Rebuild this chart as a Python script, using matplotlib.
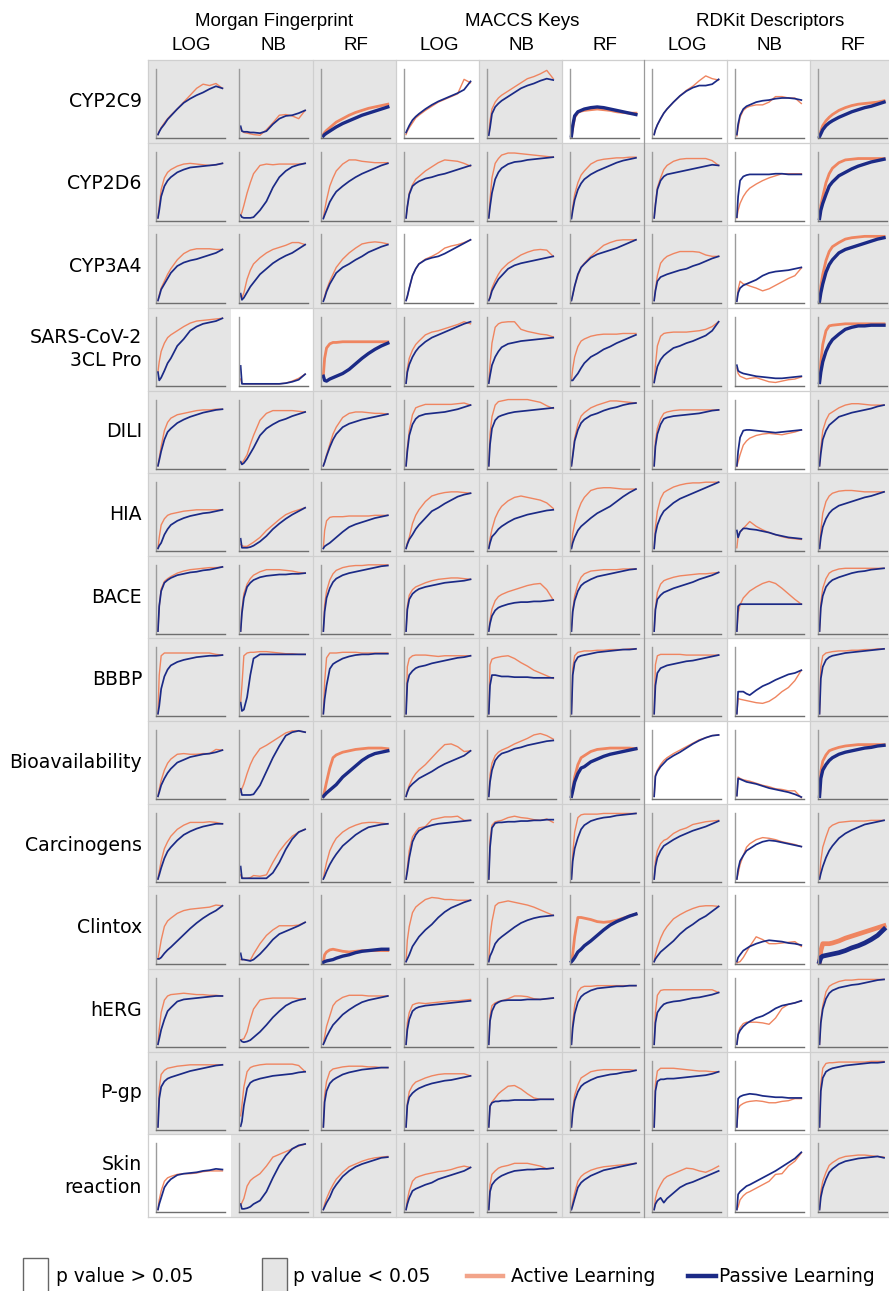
import matplotlib
matplotlib.use('Agg')
import matplotlib.pyplot as plt
from matplotlib.patches import Rectangle
from matplotlib.lines import Line2D

features = ['Morgan Fingerprint', 'MACCS Keys', 'RDKit Descriptors']
models = ['LOG', 'NB', 'RF']
datasets = ['CYP2C9', 'CYP2D6', 'CYP3A4', 'SARS-CoV-2\n3CL Pro', 'DILI', 'HIA', 'BACE',
            'BBBP', 'Bioavailability', 'Carcinogens', 'Clintox', 'hERG', 'P-gp', 'Skin\nreaction']

# fraction of the learning run at which the curves are read
steps = [0, .02, .05, .1, .15, .2, .3, .4, .5, .6, .7, .8, .9, 1]

# 1 = p value < 0.05 (grey cell), 0 = p value > 0.05 (white cell)
significant = [
    [1, 1, 1, 0, 1, 0, 0, 0, 1],
    [1, 1, 1, 1, 1, 1, 1, 0, 1],
    [1, 1, 1, 0, 1, 1, 1, 0, 1],
    [1, 0, 1, 1, 1, 1, 1, 0, 1],
    [1, 1, 1, 1, 1, 1, 1, 0, 1],
    [1, 1, 1, 1, 1, 1, 1, 1, 1],
    [1, 1, 1, 1, 1, 1, 1, 1, 1],
    [1, 1, 1, 1, 1, 1, 1, 0, 1],
    [1, 1, 1, 1, 1, 1, 0, 0, 1],
    [1, 1, 1, 1, 1, 1, 1, 0, 1],
    [1, 1, 1, 1, 1, 1, 1, 0, 1],
    [1, 1, 1, 1, 1, 1, 1, 0, 1],
    [1, 1, 1, 1, 1, 1, 1, 0, 1],
    [0, 1, 1, 1, 1, 1, 1, 0, 1],
]

# relative performance (% of panel height); columns: Morgan LOG/NB/RF, MACCS LOG/NB/RF, RDKit LOG/NB/RF
al_cyp2c9 = [
    [5, 10, 15, 22, 28, 33, 42, 52, 62, 72, 78, 76, 79, 72],
    [14, 10, 8, 7, 6, 5, 4, 12, 22, 33, 34, 32, 28, 40],
    [5, 8, 11, 15, 19, 23, 28, 33, 37, 40, 43, 45, 47, 49],
    [5, 10, 15, 22, 29, 33, 40, 46, 52, 56, 60, 64, 85, 80],
    [5, 25, 42, 52, 58, 62, 68, 74, 80, 86, 89, 93, 98, 86],
    [3, 15, 30, 37, 39, 40, 41, 42, 41, 40, 38, 37, 36, 36],
    [5, 12, 19, 28, 36, 42, 52, 61, 69, 75, 83, 90, 86, 84],
    [3, 15, 30, 40, 44, 46, 48, 48, 52, 60, 60, 58, 58, 50],
    [3, 10, 18, 25, 30, 34, 40, 44, 47, 49, 50, 51, 52, 54],
]
pl_cyp2c9 = [
    [5, 9, 14, 20, 27, 32, 42, 51, 57, 62, 66, 71, 75, 72],
    [17, 10, 9, 9, 8, 8, 7, 10, 20, 28, 32, 33, 36, 40],
    [3, 5, 7, 10, 13, 16, 21, 25, 29, 33, 36, 39, 42, 45],
    [8, 12, 18, 26, 31, 35, 42, 48, 53, 57, 61, 65, 70, 82],
    [4, 15, 35, 45, 50, 54, 60, 66, 72, 76, 79, 83, 86, 84],
    [3, 18, 32, 38, 40, 42, 44, 45, 44, 42, 40, 38, 36, 34],
    [5, 12, 19, 28, 36, 42, 52, 61, 68, 73, 76, 76, 78, 85],
    [5, 20, 33, 42, 46, 48, 52, 54, 55, 57, 58, 58, 57, 55],
    [2, 6, 12, 18, 22, 25, 30, 34, 38, 41, 44, 46, 49, 52],
]
al_cyp2d6 = [
    [4, 20, 45, 62, 70, 74, 79, 82, 83, 82, 81, 80, 81, 83],
    [8, 12, 22, 40, 55, 68, 80, 82, 81, 82, 82, 82, 82, 83],
    [4, 15, 30, 50, 62, 72, 82, 88, 88, 86, 85, 84, 84, 84],
    [4, 20, 40, 52, 60, 64, 72, 78, 84, 88, 87, 86, 83, 79],
    [4, 30, 62, 83, 90, 95, 98, 98, 97, 96, 95, 94, 93, 92],
    [4, 20, 38, 55, 66, 72, 82, 87, 89, 90, 91, 91, 92, 92],
    [4, 25, 48, 62, 74, 80, 86, 89, 90, 90, 90, 90, 87, 80],
    [4, 15, 25, 35, 42, 47, 53, 58, 62, 65, 68, 68, 68, 68],
    [4, 22, 35, 55, 68, 76, 84, 88, 89, 90, 90, 90, 90, 90],
]
pl_cyp2d6 = [
    [4, 15, 35, 50, 58, 63, 70, 74, 77, 78, 79, 80, 81, 83],
    [8, 5, 4, 4, 4, 5, 15, 28, 48, 63, 72, 78, 81, 83],
    [3, 8, 15, 27, 35, 42, 50, 57, 63, 68, 72, 76, 80, 83],
    [4, 20, 38, 50, 54, 57, 61, 63, 66, 68, 71, 74, 77, 80],
    [4, 20, 40, 60, 70, 76, 82, 85, 86, 88, 89, 90, 91, 92],
    [3, 15, 30, 45, 54, 60, 67, 72, 76, 80, 84, 87, 89, 91],
    [4, 22, 45, 58, 64, 67, 69, 71, 73, 75, 77, 79, 81, 80],
    [5, 35, 58, 64, 66, 67, 67, 67, 67, 68, 68, 67, 67, 67],
    [3, 15, 25, 38, 50, 56, 65, 70, 75, 79, 82, 85, 87, 89],
]
al_cyp3a4 = [
    [4, 12, 22, 32, 42, 50, 63, 72, 77, 79, 79, 79, 78, 78],
    [10, 8, 15, 35, 48, 57, 66, 73, 78, 81, 84, 88, 88, 85],
    [4, 10, 20, 32, 42, 52, 64, 73, 80, 86, 88, 89, 88, 86],
    [4, 10, 22, 40, 50, 57, 64, 68, 73, 80, 83, 85, 88, 92],
    [4, 10, 22, 33, 42, 49, 58, 64, 70, 74, 77, 78, 77, 68],
    [4, 12, 25, 40, 52, 58, 68, 76, 84, 88, 91, 92, 92, 92],
    [4, 20, 40, 58, 64, 68, 72, 75, 75, 75, 74, 70, 68, 68],
    [3, 20, 32, 28, 27, 25, 22, 18, 21, 26, 31, 36, 40, 51],
    [4, 25, 42, 62, 75, 82, 88, 93, 95, 96, 97, 97, 97, 97],
]
pl_cyp3a4 = [
    [4, 10, 20, 28, 36, 44, 54, 59, 62, 64, 67, 70, 73, 78],
    [14, 5, 8, 16, 24, 30, 42, 50, 58, 64, 69, 73, 79, 85],
    [3, 8, 17, 28, 36, 44, 52, 57, 63, 68, 74, 78, 82, 85],
    [4, 10, 22, 40, 50, 57, 63, 66, 68, 72, 77, 82, 87, 92],
    [4, 8, 18, 27, 35, 40, 50, 55, 58, 60, 62, 64, 66, 68],
    [4, 12, 25, 42, 52, 57, 66, 71, 74, 77, 80, 84, 88, 92],
    [4, 18, 32, 38, 40, 42, 45, 48, 50, 54, 57, 61, 65, 68],
    [3, 15, 22, 26, 28, 30, 34, 40, 44, 46, 47, 48, 50, 52],
    [3, 15, 28, 45, 56, 63, 73, 78, 81, 84, 87, 90, 93, 95],
]
al_sars = [
    [20, 35, 50, 62, 70, 74, 80, 86, 91, 94, 95, 96, 97, 98],
    [10, 4, 3, 3, 3, 3, 3, 3, 3, 3, 4, 7, 11, 17],
    [15, 40, 55, 61, 63, 63, 64, 64, 64, 64, 64, 64, 64, 64],
    [4, 25, 40, 52, 60, 65, 74, 78, 80, 83, 86, 89, 93, 90],
    [4, 30, 62, 85, 90, 92, 93, 93, 82, 79, 77, 75, 74, 71],
    [8, 25, 42, 57, 65, 68, 72, 74, 75, 75, 75, 76, 76, 76],
    [5, 30, 58, 72, 76, 77, 78, 78, 78, 79, 80, 82, 86, 93],
    [26, 18, 14, 12, 10, 11, 12, 9, 6, 5, 7, 9, 10, 13],
    [8, 35, 60, 80, 87, 88, 89, 90, 90, 90, 90, 90, 90, 90],
]
pl_sars = [
    [20, 8, 12, 22, 33, 40, 58, 68, 80, 86, 90, 92, 94, 98],
    [29, 3, 3, 3, 3, 3, 3, 3, 3, 3, 4, 6, 9, 17],
    [14, 8, 7, 10, 12, 14, 18, 24, 32, 40, 47, 53, 58, 62],
    [4, 20, 31, 42, 50, 56, 64, 70, 74, 78, 82, 86, 90, 93],
    [4, 15, 30, 42, 50, 56, 61, 63, 65, 66, 67, 68, 69, 70],
    [8, 8, 12, 18, 26, 33, 42, 47, 53, 57, 62, 66, 70, 74],
    [5, 15, 28, 38, 44, 48, 55, 58, 62, 65, 69, 73, 80, 93],
    [30, 22, 20, 18, 17, 16, 14, 13, 12, 11, 11, 12, 13, 14],
    [5, 20, 35, 50, 60, 67, 75, 82, 85, 87, 87, 88, 88, 88],
]
al_dili = [
    [4, 15, 32, 55, 67, 73, 78, 80, 82, 84, 85, 85, 86, 86],
    [8, 8, 12, 20, 35, 48, 70, 80, 84, 84, 84, 84, 83, 82],
    [4, 10, 20, 35, 50, 60, 74, 80, 82, 82, 81, 80, 80, 79],
    [4, 30, 55, 78, 88, 90, 93, 93, 93, 93, 93, 94, 95, 92],
    [4, 50, 75, 92, 97, 98, 100, 100, 100, 100, 98, 96, 91, 87],
    [4, 20, 44, 64, 76, 81, 88, 92, 95, 98, 98, 97, 96, 95],
    [4, 40, 58, 72, 80, 82, 84, 85, 85, 85, 85, 85, 85, 85],
    [3, 10, 20, 34, 40, 44, 48, 50, 51, 50, 49, 51, 53, 56],
    [4, 30, 55, 70, 79, 82, 88, 92, 94, 94, 93, 92, 92, 92],
]
pl_dili = [
    [4, 12, 25, 42, 53, 58, 66, 71, 75, 78, 81, 83, 85, 86],
    [10, 6, 8, 14, 22, 30, 48, 58, 64, 69, 72, 76, 79, 82],
    [4, 9, 18, 31, 42, 50, 60, 65, 68, 71, 73, 75, 77, 79],
    [4, 25, 48, 64, 72, 76, 79, 80, 81, 82, 84, 86, 89, 92],
    [4, 35, 58, 70, 75, 77, 80, 82, 83, 84, 85, 86, 87, 88],
    [4, 18, 40, 56, 66, 71, 77, 80, 84, 87, 89, 92, 94, 95],
    [4, 32, 50, 64, 72, 74, 76, 77, 78, 79, 80, 82, 84, 85],
    [4, 25, 45, 55, 56, 56, 55, 54, 53, 52, 53, 54, 55, 56],
    [4, 22, 42, 55, 63, 67, 75, 78, 81, 83, 85, 87, 90, 92],
]
al_hia = [
    [4, 20, 38, 47, 52, 54, 56, 58, 59, 60, 60, 60, 60, 60],
    [10, 8, 7, 7, 10, 13, 20, 30, 38, 46, 53, 57, 60, 63],
    [4, 30, 44, 49, 50, 50, 50, 51, 51, 51, 51, 52, 52, 52],
    [4, 12, 20, 40, 52, 60, 72, 80, 83, 85, 86, 86, 85, 84],
    [4, 18, 32, 48, 58, 65, 73, 78, 80, 78, 76, 74, 70, 62],
    [4, 25, 40, 58, 70, 78, 88, 91, 92, 92, 91, 90, 90, 90],
    [4, 35, 58, 76, 85, 88, 93, 96, 98, 99, 99, 100, 100, 100],
    [5, 22, 28, 33, 38, 43, 36, 31, 27, 24, 21, 19, 18, 17],
    [4, 30, 55, 72, 80, 84, 87, 88, 88, 87, 86, 86, 86, 86],
]
pl_hia = [
    [4, 8, 12, 24, 32, 38, 44, 48, 51, 53, 55, 56, 58, 60],
    [18, 5, 5, 5, 6, 8, 14, 22, 32, 40, 47, 53, 58, 63],
    [4, 7, 9, 12, 16, 20, 28, 35, 39, 42, 45, 48, 50, 52],
    [4, 10, 17, 24, 32, 38, 48, 58, 63, 69, 74, 79, 82, 84],
    [4, 12, 21, 26, 32, 36, 42, 47, 50, 53, 55, 57, 59, 60],
    [4, 12, 20, 30, 36, 40, 48, 55, 60, 65, 72, 79, 85, 90],
    [4, 25, 38, 50, 58, 62, 70, 76, 80, 84, 88, 92, 96, 100],
    [30, 20, 28, 33, 33, 32, 31, 29, 27, 24, 22, 20, 19, 18],
    [4, 20, 35, 47, 55, 60, 66, 69, 72, 75, 78, 80, 83, 86],
]
al_bace = [
    [4, 40, 65, 76, 80, 83, 88, 91, 93, 94, 95, 96, 96, 97],
    [4, 35, 58, 72, 80, 85, 90, 93, 93, 93, 92, 91, 89, 88],
    [4, 42, 62, 78, 87, 92, 96, 98, 99, 99, 100, 100, 100, 100],
    [4, 40, 56, 64, 68, 70, 74, 77, 79, 80, 81, 81, 80, 79],
    [4, 20, 36, 48, 54, 57, 61, 64, 67, 70, 72, 73, 64, 49],
    [4, 35, 55, 72, 82, 87, 91, 92, 93, 93, 93, 94, 94, 94],
    [4, 38, 60, 72, 77, 79, 82, 84, 85, 86, 87, 87, 88, 89],
    [4, 30, 42, 52, 57, 62, 68, 73, 76, 73, 66, 58, 50, 43],
    [4, 45, 66, 80, 88, 91, 94, 95, 95, 95, 95, 95, 95, 95],
]
pl_bace = [
    [4, 40, 62, 74, 78, 81, 85, 87, 89, 90, 92, 93, 95, 97],
    [4, 30, 52, 68, 74, 78, 82, 84, 85, 86, 86, 87, 87, 88],
    [4, 32, 52, 66, 75, 80, 85, 88, 90, 92, 94, 96, 98, 99],
    [4, 35, 50, 58, 62, 65, 68, 70, 72, 74, 75, 76, 77, 79],
    [4, 15, 26, 34, 38, 40, 43, 45, 46, 46, 47, 47, 48, 49],
    [4, 32, 48, 62, 70, 74, 79, 83, 85, 87, 89, 91, 93, 94],
    [4, 35, 50, 56, 60, 62, 66, 69, 72, 75, 79, 82, 85, 89],
    [4, 40, 43, 43, 43, 43, 43, 43, 43, 43, 43, 43, 43, 43],
    [4, 38, 55, 68, 74, 78, 82, 85, 88, 90, 91, 93, 94, 95],
]
al_bbbp = [
    [4, 60, 88, 92, 92, 92, 92, 92, 92, 92, 92, 92, 90, 89],
    [20, 45, 88, 92, 93, 93, 94, 94, 93, 92, 91, 91, 90, 90],
    [4, 50, 85, 92, 92, 92, 93, 93, 93, 92, 92, 92, 92, 92],
    [4, 72, 84, 88, 89, 89, 89, 88, 87, 88, 88, 88, 88, 88],
    [4, 75, 83, 85, 86, 87, 88, 84, 78, 73, 67, 63, 59, 55],
    [4, 70, 88, 93, 94, 95, 95, 96, 96, 97, 97, 97, 98, 98],
    [4, 75, 88, 90, 90, 90, 90, 90, 89, 89, 89, 89, 89, 89],
    [4, 26, 25, 24, 23, 22, 20, 19, 22, 28, 36, 42, 52, 67],
    [4, 72, 88, 92, 93, 94, 95, 95, 96, 96, 97, 97, 98, 98],
]
pl_bbbp = [
    [4, 15, 40, 58, 68, 74, 79, 82, 84, 86, 87, 88, 88, 89],
    [20, 8, 10, 28, 60, 84, 90, 90, 90, 90, 90, 90, 90, 90],
    [4, 25, 45, 69, 76, 79, 84, 87, 89, 90, 90, 91, 91, 91],
    [4, 48, 60, 66, 70, 72, 74, 77, 79, 81, 83, 85, 86, 88],
    [4, 45, 60, 60, 59, 58, 58, 57, 57, 57, 56, 56, 56, 56],
    [4, 60, 78, 86, 88, 89, 91, 93, 94, 95, 96, 97, 97, 98],
    [4, 45, 63, 70, 72, 74, 76, 78, 80, 81, 83, 85, 87, 89],
    [4, 36, 36, 36, 33, 31, 38, 44, 48, 53, 57, 61, 63, 67],
    [4, 55, 72, 82, 86, 88, 90, 92, 93, 94, 95, 96, 97, 98],
]
al_bioav = [
    [4, 14, 27, 42, 52, 58, 65, 66, 65, 65, 66, 66, 72, 71],
    [10, 15, 22, 37, 50, 60, 73, 78, 84, 90, 96, 99, 99, 97],
    [4, 12, 25, 45, 60, 64, 68, 70, 72, 73, 74, 74, 74, 73],
    [4, 12, 20, 30, 37, 42, 50, 60, 70, 79, 80, 76, 69, 70],
    [4, 35, 52, 63, 68, 71, 75, 80, 84, 88, 93, 95, 92, 87],
    [4, 15, 32, 50, 60, 63, 69, 72, 73, 74, 74, 74, 74, 73],
    [4, 35, 42, 50, 56, 60, 66, 71, 76, 81, 86, 89, 92, 93],
    [5, 32, 30, 28, 27, 26, 23, 20, 18, 15, 14, 12, 12, 2],
    [4, 40, 55, 64, 70, 72, 75, 77, 78, 79, 79, 79, 79, 79],
]
pl_bioav = [
    [4, 10, 20, 30, 38, 44, 53, 57, 61, 63, 65, 66, 68, 71],
    [15, 6, 6, 6, 6, 7, 20, 40, 60, 77, 92, 97, 99, 97],
    [4, 6, 9, 13, 17, 21, 32, 40, 48, 56, 62, 66, 68, 70],
    [4, 10, 17, 22, 26, 30, 35, 40, 46, 51, 55, 59, 63, 70],
    [4, 25, 42, 56, 62, 66, 69, 73, 75, 78, 80, 82, 84, 85],
    [4, 12, 25, 37, 45, 47, 54, 58, 62, 65, 67, 69, 71, 73],
    [4, 33, 40, 47, 52, 57, 63, 68, 74, 80, 85, 89, 92, 93],
    [5, 30, 29, 27, 25, 24, 22, 19, 16, 14, 12, 10, 7, 3],
    [4, 30, 42, 50, 56, 60, 65, 68, 70, 72, 74, 75, 77, 78],
]
al_carcino = [
    [4, 15, 30, 48, 58, 66, 76, 82, 86, 86, 86, 87, 86, 84],
    [10, 6, 5, 5, 6, 9, 8, 10, 28, 44, 56, 66, 72, 76],
    [4, 15, 28, 45, 55, 63, 72, 78, 82, 85, 86, 86, 85, 84],
    [4, 20, 45, 65, 72, 78, 80, 90, 92, 94, 94, 95, 89, 89],
    [4, 62, 82, 87, 88, 89, 93, 95, 93, 92, 90, 89, 91, 86],
    [4, 40, 72, 93, 97, 98, 98, 98, 99, 99, 99, 99, 99, 99],
    [4, 30, 45, 55, 60, 62, 70, 75, 78, 83, 85, 87, 88, 89],
    [4, 12, 25, 38, 50, 55, 61, 64, 63, 61, 58, 56, 54, 51],
    [4, 30, 50, 65, 78, 82, 86, 87, 88, 88, 88, 89, 89, 89],
]
pl_carcino = [
    [4, 10, 20, 34, 44, 50, 60, 68, 73, 77, 80, 82, 84, 84],
    [22, 5, 5, 5, 5, 5, 5, 5, 13, 28, 47, 62, 72, 76],
    [4, 8, 15, 25, 33, 40, 52, 60, 68, 74, 79, 81, 83, 84],
    [4, 15, 35, 58, 68, 74, 79, 82, 84, 85, 86, 87, 88, 89],
    [4, 50, 78, 85, 86, 86, 87, 87, 88, 88, 89, 89, 90, 90],
    [4, 30, 48, 64, 76, 82, 88, 91, 93, 94, 96, 97, 98, 99],
    [4, 22, 35, 45, 52, 55, 61, 66, 70, 74, 77, 80, 84, 88],
    [4, 18, 30, 38, 45, 48, 54, 58, 60, 59, 57, 55, 53, 51],
    [4, 12, 22, 35, 45, 52, 63, 70, 75, 79, 83, 85, 87, 89],
]
al_clintox = [
    [8, 18, 35, 55, 63, 67, 74, 78, 80, 81, 82, 83, 86, 85],
    [7, 7, 7, 6, 6, 15, 30, 42, 50, 56, 56, 56, 57, 61],
    [4, 14, 18, 21, 22, 21, 19, 18, 19, 20, 20, 20, 20, 20],
    [4, 35, 55, 75, 83, 87, 94, 97, 96, 94, 94, 93, 93, 93],
    [4, 40, 62, 85, 89, 90, 92, 90, 88, 86, 83, 79, 75, 71],
    [4, 15, 40, 68, 68, 67, 65, 62, 61, 62, 64, 67, 70, 73],
    [4, 14, 24, 38, 48, 55, 66, 72, 77, 81, 84, 85, 85, 84],
    [2, 3, 4, 10, 18, 26, 40, 36, 30, 30, 31, 32, 33, 26],
    [4, 20, 30, 30, 30, 31, 34, 38, 41, 44, 47, 50, 53, 56],
]
pl_clintox = [
    [8, 8, 10, 16, 21, 25, 34, 43, 52, 60, 67, 73, 78, 85],
    [16, 7, 7, 6, 5, 7, 15, 25, 36, 44, 48, 52, 56, 61],
    [3, 4, 5, 6, 7, 9, 12, 14, 17, 19, 20, 21, 22, 22],
    [4, 8, 14, 26, 33, 40, 50, 58, 68, 76, 82, 86, 90, 93],
    [4, 12, 18, 30, 36, 40, 47, 54, 60, 64, 67, 69, 70, 71],
    [4, 6, 10, 18, 22, 27, 34, 42, 50, 57, 62, 66, 70, 73],
    [4, 8, 12, 18, 22, 26, 34, 44, 52, 58, 65, 70, 77, 84],
    [4, 10, 14, 20, 23, 26, 30, 33, 35, 34, 33, 31, 30, 28],
    [4, 10, 12, 13, 14, 15, 17, 20, 24, 27, 31, 36, 42, 51],
]
al_herg = [
    [4, 25, 50, 68, 74, 76, 77, 78, 77, 76, 76, 75, 75, 74],
    [10, 11, 12, 22, 40, 55, 68, 70, 71, 71, 71, 71, 70, 70],
    [4, 15, 30, 45, 60, 66, 72, 75, 75, 75, 74, 74, 74, 74],
    [4, 35, 50, 61, 63, 64, 63, 64, 65, 66, 67, 67, 68, 69],
    [4, 45, 60, 64, 66, 67, 70, 74, 74, 73, 70, 69, 70, 71],
    [4, 35, 60, 80, 86, 88, 88, 89, 89, 89, 89, 89, 89, 89],
    [4, 50, 75, 82, 83, 83, 83, 83, 83, 83, 83, 83, 83, 79],
    [4, 20, 28, 34, 36, 36, 36, 35, 33, 42, 56, 62, 64, 67],
    [4, 40, 60, 80, 88, 91, 95, 97, 97, 98, 98, 98, 98, 98],
]
pl_herg = [
    [4, 12, 25, 40, 52, 57, 66, 69, 70, 71, 72, 73, 74, 74],
    [10, 8, 7, 8, 10, 14, 22, 32, 43, 52, 60, 65, 68, 70],
    [4, 8, 15, 24, 32, 37, 47, 54, 60, 65, 68, 70, 72, 74],
    [4, 25, 40, 52, 56, 58, 60, 61, 62, 63, 64, 65, 66, 67],
    [4, 38, 52, 62, 65, 67, 68, 68, 68, 69, 69, 69, 70, 71],
    [4, 28, 48, 65, 73, 77, 82, 85, 86, 87, 88, 88, 89, 89],
    [4, 35, 50, 57, 62, 64, 66, 67, 69, 71, 72, 74, 76, 79],
    [4, 18, 24, 30, 34, 37, 42, 45, 50, 56, 60, 62, 64, 67],
    [4, 35, 55, 70, 78, 82, 86, 88, 90, 91, 93, 95, 97, 98],
]
al_pgp = [
    [4, 60, 80, 86, 89, 90, 92, 93, 94, 94, 94, 94, 94, 94],
    [20, 35, 62, 84, 90, 92, 94, 95, 95, 95, 95, 95, 93, 84],
    [4, 50, 70, 84, 88, 89, 91, 92, 92, 92, 91, 91, 90, 90],
    [4, 38, 55, 64, 69, 71, 75, 78, 80, 81, 81, 81, 81, 78],
    [4, 35, 40, 46, 52, 56, 63, 64, 59, 52, 46, 44, 44, 44],
    [4, 30, 50, 65, 75, 78, 84, 86, 87, 87, 87, 87, 87, 86],
    [4, 66, 85, 89, 89, 89, 89, 88, 87, 86, 85, 85, 84, 84],
    [4, 30, 35, 38, 40, 41, 42, 41, 39, 39, 41, 42, 45, 45],
    [4, 66, 89, 96, 97, 97, 98, 98, 98, 98, 98, 99, 99, 99],
]
pl_pgp = [
    [4, 45, 62, 70, 74, 76, 79, 82, 85, 87, 89, 91, 93, 94],
    [5, 12, 35, 60, 68, 71, 74, 76, 78, 79, 80, 81, 83, 84],
    [4, 40, 56, 67, 72, 75, 80, 83, 85, 87, 88, 89, 90, 90],
    [4, 35, 47, 53, 57, 60, 64, 67, 69, 71, 72, 74, 76, 78],
    [4, 34, 39, 41, 41, 42, 42, 43, 43, 43, 43, 44, 44, 44],
    [4, 25, 42, 55, 63, 67, 72, 76, 78, 80, 81, 83, 84, 86],
    [4, 56, 70, 73, 73, 74, 74, 75, 76, 77, 78, 79, 81, 84],
    [4, 45, 48, 50, 51, 52, 51, 49, 48, 47, 47, 46, 46, 46],
    [4, 56, 75, 84, 87, 89, 91, 93, 94, 95, 96, 97, 97, 98],
]
al_skin = [
    [4, 18, 31, 45, 50, 52, 55, 56, 56, 57, 59, 60, 60, 60],
    [10, 14, 20, 38, 46, 50, 56, 67, 80, 84, 88, 92, 96, 99],
    [4, 12, 20, 31, 40, 48, 58, 66, 70, 74, 77, 79, 80, 81],
    [4, 18, 31, 45, 50, 52, 55, 57, 59, 60, 62, 65, 67, 65],
    [4, 40, 55, 60, 64, 66, 68, 71, 71, 71, 69, 67, 63, 64],
    [4, 15, 28, 45, 52, 56, 61, 64, 66, 67, 68, 69, 70, 71],
    [4, 20, 31, 40, 48, 52, 56, 60, 64, 63, 60, 58, 62, 67],
    [4, 8, 18, 24, 28, 30, 35, 40, 45, 55, 56, 67, 74, 86],
    [4, 30, 45, 58, 68, 72, 78, 81, 82, 83, 83, 82, 81, 80],
]
pl_skin = [
    [4, 12, 21, 36, 43, 48, 54, 56, 57, 58, 60, 61, 63, 62],
    [12, 5, 5, 6, 8, 12, 17, 30, 50, 68, 82, 92, 97, 99],
    [4, 8, 14, 22, 33, 40, 52, 60, 66, 70, 73, 76, 79, 80],
    [4, 12, 21, 31, 34, 36, 40, 43, 48, 51, 54, 57, 60, 65],
    [4, 30, 40, 46, 50, 53, 57, 60, 61, 62, 62, 63, 63, 64],
    [4, 10, 20, 36, 43, 47, 53, 57, 61, 63, 65, 67, 69, 71],
    [4, 12, 17, 21, 14, 20, 28, 36, 41, 44, 48, 52, 56, 60],
    [4, 26, 30, 34, 38, 40, 45, 50, 55, 60, 66, 72, 78, 87],
    [4, 22, 35, 48, 58, 63, 70, 74, 76, 78, 79, 80, 81, 79],
]

active = [al_cyp2c9, al_cyp2d6, al_cyp3a4, al_sars, al_dili, al_hia, al_bace, al_bbbp,
          al_bioav, al_carcino, al_clintox, al_herg, al_pgp, al_skin]
passive = [pl_cyp2c9, pl_cyp2d6, pl_cyp3a4, pl_sars, pl_dili, pl_hia, pl_bace, pl_bbbp,
           pl_bioav, pl_carcino, pl_clintox, pl_herg, pl_pgp, pl_skin]

# ---------------- styling / layout ----------------
ORANGE = '#EF8560'
NAVY = '#1B2A86'
GREY_BG = '#E5E5E5'
noisy = {(0, 2), (0, 5), (0, 8), (3, 2), (3, 8), (8, 2), (8, 5), (8, 8),
         (10, 2), (10, 5), (1, 8), (2, 8)}
very_noisy = {(10, 8)}

W, H = 889, 1291
fig = plt.figure(figsize=(W / 100, H / 100), dpi=100)
fig.patch.set_facecolor('white')

GX0, GY0 = 148.0, 60.0
CW, RH = 82.7, 82.64
NR, NC = len(datasets), 9


def fx(x):
    return x / W


def fy(y):
    return 1 - y / H


# cell backgrounds
for r in range(NR):
    for c in range(NC):
        x0 = GX0 + c * CW
        y0 = GY0 + r * RH
        col = GREY_BG if significant[r][c] else 'white'
        fig.add_artist(Rectangle((fx(x0), fy(y0 + RH)), CW / W, RH / H,
                                 transform=fig.transFigure, facecolor=col,
                                 edgecolor='none', zorder=0))

# separators
for r in range(NR + 1):
    y = GY0 + r * RH
    fig.add_artist(Line2D([fx(GX0), 1], [fy(y), fy(y)], transform=fig.transFigure,
                          color='#CFCFCF', lw=0.9, zorder=1))
for c in [0, 2, 3, 4, 5, 6, 7, 8]:
    x = GX0 + c * CW
    fig.add_artist(Line2D([fx(x), fx(x)], [fy(GY0), fy(GY0 + NR * RH)],
                          transform=fig.transFigure,
                          color='#9A9A9A' if c == 6 else '#CFCFCF',
                          lw=0.9, zorder=1))

# panels
for r in range(NR):
    for c in range(NC):
        x0 = GX0 + c * CW
        y0 = GY0 + r * RH
        ax = fig.add_axes([fx(x0 + 8), fy(y0 + 78), 69 / W, 69 / H])
        ax.set_facecolor('none')
        if (r, c) in very_noisy:
            lw_a, lw_p = 3.4, 3.4
        elif (r, c) in noisy:
            lw_a, lw_p = 2.0, 2.4
        else:
            lw_a, lw_p = 1.0, 1.25
        ax.plot(steps, active[r][c], color=ORANGE, lw=lw_a, clip_on=False,
                solid_joinstyle='round')
        ax.plot(steps, passive[r][c], color=NAVY, lw=lw_p, clip_on=False,
                solid_joinstyle='round')
        ax.set_xlim(-0.03, 1.04)
        ax.set_ylim(0, 100)
        ax.set_xticks([])
        ax.set_yticks([])
        for s in ['top', 'right']:
            ax.spines[s].set_visible(False)
        ax.spines['left'].set_color('#9C9C9C')
        ax.spines['bottom'].set_color('#6E6E6E')
        ax.spines['left'].set_linewidth(1.0)
        ax.spines['bottom'].set_linewidth(1.0)

# headers
for g, name in enumerate(features):
    xc = GX0 + (g * 3 + 1.5) * CW + 2
    fig.text(fx(xc), fy(22), name, ha='center', va='center',
             family='Liberation Sans', fontsize=13.5)
    for m, mod in enumerate(models):
        xm = GX0 + (g * 3 + m) * CW + 8 + 35
        fig.text(fx(xm), fy(46), mod, ha='center', va='center',
                 family='Liberation Sans', fontsize=13.5)

# row labels
for r, name in enumerate(datasets):
    yc = GY0 + (r + 0.5) * RH
    fig.text(fx(142), fy(yc), name, ha='right', va='center', multialignment='right',
             family='DejaVu Sans', fontsize=13.6, linespacing=1.25)

# legend
LEG_FS = 13.4
fig.add_artist(Rectangle((fx(23), fy(1292)), 25 / W, 34 / H, transform=fig.transFigure,
                         facecolor='white', edgecolor='#666666', lw=1.0))
fig.text(fx(56), fy(1276), 'p value > 0.05', ha='left', va='center',
         family='DejaVu Sans', fontsize=LEG_FS)
fig.add_artist(Rectangle((fx(262), fy(1292)), 25 / W, 34 / H, transform=fig.transFigure,
                         facecolor=GREY_BG, edgecolor='#666666', lw=1.0))
fig.text(fx(293), fy(1276), 'p value < 0.05', ha='left', va='center',
         family='DejaVu Sans', fontsize=LEG_FS)
fig.add_artist(Line2D([fx(467), fx(503)], [fy(1276), fy(1276)], transform=fig.transFigure,
                      color='#F2A48A', lw=3.2))
fig.text(fx(511), fy(1276), 'Active Learning', ha='left', va='center',
         family='DejaVu Sans', fontsize=LEG_FS)
fig.add_artist(Line2D([fx(688), fx(716)], [fy(1276), fy(1276)], transform=fig.transFigure,
                      color=NAVY, lw=3.2))
fig.text(fx(719), fy(1276), 'Passive Learning', ha='left', va='center',
         family='DejaVu Sans', fontsize=LEG_FS)

fig.savefig('out.png', dpi=100, facecolor='white')
